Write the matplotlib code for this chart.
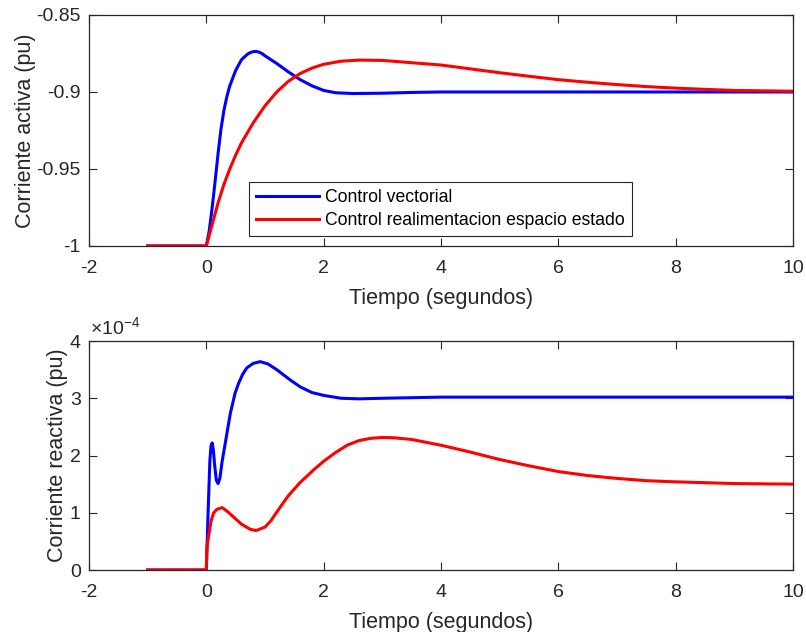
import matplotlib
matplotlib.use("Agg")
import matplotlib.pyplot as plt
from matplotlib.ticker import FixedLocator, FormatStrFormatter

plt.rcParams['font.family'] = ['Liberation Sans', 'DejaVu Sans']
plt.rcParams['axes.unicode_minus'] = False
plt.rcParams['mathtext.fontset'] = 'custom'
plt.rcParams['mathtext.rm'] = 'Liberation Sans'
plt.rcParams['mathtext.it'] = 'Liberation Sans'

# --- data ---
labels = ["Control vectorial", "Control realimentacion espacio estado"]

# corriente activa, control vectorial
t_act_vec = [-1, 0, 0.05, 0.1, 0.15, 0.2, 0.25, 0.3, 0.35, 0.4, 0.5, 0.6, 0.7,
             0.75, 0.8, 0.85, 0.9, 0.95, 1.0, 1.1, 1.2, 1.4, 1.6, 1.8, 2.0,
             2.2, 2.5, 3.0, 3.5, 4.0, 10]
i_act_vec = [-1, -1, -0.99, -0.975, -0.958, -0.94, -0.924, -0.912, -0.903,
             -0.896, -0.886, -0.879, -0.8755, -0.8744, -0.8738, -0.8737,
             -0.8741, -0.8751, -0.8765, -0.879, -0.8815, -0.887, -0.892,
             -0.896, -0.899, -0.9005, -0.901, -0.9008, -0.9003, -0.9, -0.9]

# corriente activa, realimentacion espacio estado
t_act_ss = [-1, 0, 0.1, 0.2, 0.3, 0.4, 0.5, 0.6, 0.8, 1.0, 1.2, 1.4, 1.6, 1.8,
            2.0, 2.3, 2.6, 3.0, 3.5, 4.0, 4.5, 5.0, 5.5, 6.0, 6.5, 7.0, 7.5,
            8.0, 8.5, 9.0, 10]
i_act_ss = [-1, -1, -0.986, -0.972, -0.960, -0.950, -0.941, -0.933, -0.920,
            -0.909, -0.900, -0.893, -0.888, -0.8845, -0.882, -0.880, -0.8793,
            -0.8795, -0.881, -0.8825, -0.885, -0.8875, -0.8898, -0.892,
            -0.8937, -0.8952, -0.8965, -0.8975, -0.8983, -0.899, -0.8995]

# corriente reactiva, control vectorial (x1e-4)
t_rea_vec = [-1, 0, 0.03, 0.06, 0.08, 0.1, 0.12, 0.14, 0.17, 0.2, 0.23, 0.27,
             0.32, 0.37, 0.41, 0.49, 0.55, 0.62, 0.69, 0.8, 0.92, 1.05, 1.2,
             1.43, 1.6, 1.8, 2.0, 2.3, 2.6, 3.0, 3.5, 4.0, 10]
i_rea_vec = [0, 0, 1.0, 1.9, 2.17, 2.22, 2.1, 1.85, 1.57, 1.51, 1.6, 1.9,
             2.2, 2.5, 2.74, 3.09, 3.26, 3.42, 3.53, 3.61, 3.64, 3.6, 3.5,
             3.32, 3.2, 3.1, 3.05, 3.0, 2.99, 3.0, 3.01, 3.02, 3.02]

# corriente reactiva, realimentacion espacio estado (x1e-4)
t_rea_ss = [-1, 0, 0.01, 0.04, 0.08, 0.12, 0.18, 0.27, 0.35, 0.46, 0.6,
            0.75, 0.85, 1.0, 1.1, 1.26, 1.4, 1.6, 1.83, 2.0, 2.2, 2.4, 2.6,
            2.8, 3.0, 3.2, 3.5, 4.0, 4.5, 5.0, 5.5, 6.0, 6.5, 7.0, 7.5, 8.0,
            9.0, 10]
i_rea_ss = [0, 0, 0.4, 0.6, 0.85, 0.99, 1.06, 1.09, 1.03, 0.93, 0.8, 0.71,
            0.69, 0.75, 0.86, 1.1, 1.3, 1.53, 1.75, 1.9, 2.05, 2.18, 2.26,
            2.3, 2.315, 2.31, 2.28, 2.18, 2.06, 1.93, 1.82, 1.72, 1.65, 1.6,
            1.56, 1.54, 1.51, 1.50]

scale = 1e-4
x_ticks = [-2, 0, 2, 4, 6, 8, 10]

gray = '#262626'


def style_axes(ax):
    ax.set_xlim(-2, 10)
    ax.xaxis.set_major_locator(FixedLocator(x_ticks))
    ax.tick_params(direction='in', top=True, right=True, length=6,
                   width=0.8, colors=gray, labelsize=14)
    ax.tick_params(axis='x', pad=10)
    ax.tick_params(axis='y', pad=6)
    for sp in ax.spines.values():
        sp.set_color(gray)
        sp.set_linewidth(0.9)
    ax.set_xlabel("Tiempo (segundos)", fontsize=15.5, color=gray, labelpad=8)


fig = plt.figure(figsize=(8.06, 6.32), dpi=100)
ax1 = fig.add_axes([0.1104, 0.6108, 0.8735, 0.3655])
ax2 = fig.add_axes([0.1104, 0.0981, 0.8735, 0.3623])

ax1.plot(t_act_vec, i_act_vec, color='#0000ff', lw=2.2, label=labels[0])
ax1.plot(t_act_ss, i_act_ss, color='#ff0000', lw=2.2, label=labels[1])
ax1.set_ylim(-1, -0.85)
ax1.yaxis.set_major_locator(FixedLocator([-1, -0.95, -0.9, -0.85]))
ax1.yaxis.set_major_formatter(FormatStrFormatter('%g'))
style_axes(ax1)
ax1.set_ylabel("Corriente activa (pu)", fontsize=15.5, color=gray, labelpad=0)
leg = ax1.legend(loc='lower left', bbox_to_anchor=(0.2272, 0.043),
                 fancybox=False, framealpha=1, edgecolor=gray,
                 fontsize=12.7, handlelength=3.6, borderpad=0.4,
                 labelspacing=0.32, handletextpad=0.3, borderaxespad=0)
leg.get_frame().set_linewidth(0.8)

ax2.plot(t_rea_vec, [v * scale for v in i_rea_vec], color='#0000ff', lw=2.2)
ax2.plot(t_rea_ss, [v * scale for v in i_rea_ss], color='#ff0000', lw=2.2)
ax2.set_ylim(0, 4e-4)
ax2.yaxis.set_major_locator(FixedLocator([0, 1e-4, 2e-4, 3e-4, 4e-4]))
ax2.yaxis.set_major_formatter(
    plt.FuncFormatter(lambda v, p: f"{v / scale:g}"))
style_axes(ax2)
ax2.set_ylabel("Corriente reactiva (pu)", fontsize=15.5, color=gray,
               labelpad=1)
ax2.text(0.002, 1.012, r"$\times10^{-4}$", transform=ax2.transAxes,
         fontsize=14, color=gray, ha='left', va='bottom')

fig.savefig("out.png", dpi=100)
